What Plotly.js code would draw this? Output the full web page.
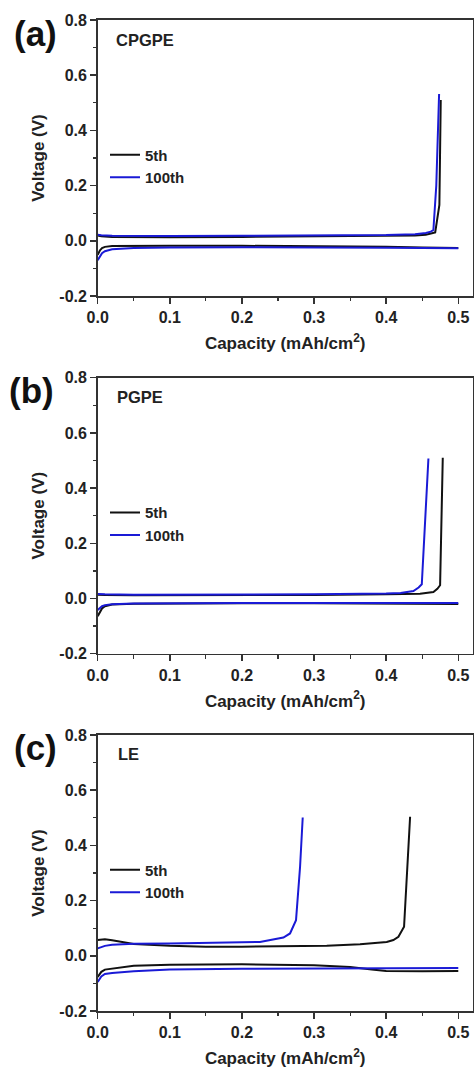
<!DOCTYPE html>
<html>
<head>
<meta charset="utf-8">
<script src="https://cdn.plot.ly/plotly-3.0.1.min.js"></script>
<style>html,body{margin:0;padding:0;background:#fff;}#chart{width:474px;height:1073px;}</style>
</head>
<body>
<div id="chart"></div>
<script>
// ---------- data (Capacity in mAh/cm2, Voltage in V) ----------
const seriesNames = ['5th', '100th'];
const panelLabels = ['(a)', '(b)', '(c)'];
const panelNames = ['CPGPE', 'PGPE', 'LE'];
const xTickVals = [0, 0.1, 0.2, 0.3, 0.4, 0.5];
const xTickText = ['0.0', '0.1', '0.2', '0.3', '0.4', '0.5'];
const yTickVals = [-0.2, 0, 0.2, 0.4, 0.6, 0.8];
const yTickText = ['-0.2', '0.0', '0.2', '0.4', '0.6', '0.8'];

// Panel (a) CPGPE
const a5ChgX   = [0, 0.005, 0.02, 0.05, 0.1, 0.2, 0.3, 0.4, 0.44, 0.455, 0.464, 0.468, 0.4738, 0.4757];
const a5ChgY   = [0.019, 0.016, 0.014, 0.013, 0.013, 0.014, 0.015, 0.017, 0.019, 0.022, 0.026, 0.030, 0.13, 0.51];
const a100ChgX = [0, 0.005, 0.02, 0.05, 0.1, 0.2, 0.3, 0.4, 0.44, 0.455, 0.462, 0.4655, 0.4695, 0.4734];
const a100ChgY = [0.022, 0.02, 0.018, 0.017, 0.017, 0.018, 0.019, 0.021, 0.024, 0.028, 0.033, 0.039, 0.2, 0.532];
const a5DisX   = [0, 0.003, 0.006, 0.01, 0.02, 0.05, 0.1, 0.2, 0.3, 0.4, 0.45, 0.5];
const a5DisY   = [-0.051, -0.035, -0.026, -0.022, -0.019, -0.018, -0.018, -0.018, -0.019, -0.022, -0.024, -0.026];
const a100DisX = [0, 0.003, 0.006, 0.01, 0.02, 0.05, 0.1, 0.2, 0.3, 0.4, 0.5];
const a100DisY = [-0.07, -0.055, -0.045, -0.038, -0.031, -0.026, -0.024, -0.023, -0.023, -0.025, -0.027];

// Panel (b) PGPE
const b5ChgX   = [0, 0.01, 0.05, 0.1, 0.2, 0.3, 0.4, 0.447, 0.4655, 0.471, 0.4748, 0.4785];
const b5ChgY   = [0.014, 0.013, 0.012, 0.012, 0.012, 0.013, 0.015, 0.0175, 0.0235, 0.035, 0.048, 0.51];
const b100ChgX = [0, 0.01, 0.05, 0.1, 0.2, 0.3, 0.4, 0.42, 0.4378, 0.445, 0.4494, 0.4586];
const b100ChgY = [0.016, 0.015, 0.014, 0.014, 0.014, 0.015, 0.018, 0.02, 0.027, 0.04, 0.0515, 0.5075];
const b5DisX   = [0, 0.003, 0.006, 0.01, 0.02, 0.05, 0.1, 0.2, 0.3, 0.4, 0.5];
const b5DisY   = [-0.064, -0.048, -0.036, -0.028, -0.022, -0.019, -0.018, -0.017, -0.017, -0.018, -0.02];
const b100DisX = [0, 0.003, 0.006, 0.01, 0.02, 0.05, 0.1, 0.2, 0.3, 0.4, 0.5];
const b100DisY = [-0.042, -0.034, -0.028, -0.024, -0.021, -0.018, -0.017, -0.016, -0.016, -0.0165, -0.0165];

// Panel (c) LE
const c5ChgX   = [0, 0.01, 0.02, 0.05, 0.1, 0.15, 0.2, 0.25, 0.3176, 0.3638, 0.4008, 0.41, 0.417, 0.4248, 0.4332];
const c5ChgY   = [0.057, 0.06, 0.056, 0.043, 0.036, 0.033, 0.033, 0.034, 0.036, 0.042, 0.05, 0.057, 0.069, 0.105, 0.504];
const c100ChgX = [0, 0.005, 0.01, 0.02, 0.05, 0.1, 0.15, 0.2, 0.225, 0.2575, 0.2667, 0.275, 0.2806, 0.2843];
const c100ChgY = [0.027, 0.033, 0.036, 0.04, 0.044, 0.045, 0.047, 0.049, 0.05, 0.066, 0.081, 0.129, 0.322, 0.501];
const c5DisX   = [0, 0.005, 0.01, 0.02, 0.05, 0.1, 0.15, 0.2, 0.3, 0.35, 0.38, 0.4, 0.45, 0.5];
const c5DisY   = [-0.077, -0.058, -0.05, -0.046, -0.036, -0.032, -0.031, -0.031, -0.034, -0.041, -0.05, -0.055, -0.056, -0.055];
const c100DisX = [0, 0.005, 0.01, 0.02, 0.05, 0.1, 0.2, 0.3, 0.35, 0.4, 0.5];
const c100DisY = [-0.095, -0.075, -0.066, -0.062, -0.056, -0.05, -0.047, -0.046, -0.045, -0.044, -0.044];

// ---------- styling ----------
const BLACK = '#111111';
const BLUE = '#1a1ad6';
const FONT = 'Liberation Sans, Arial, Helvetica, sans-serif';
const LW = 2;

const panels = [
  {chg5: [a5ChgX, a5ChgY], chg100: [a100ChgX, a100ChgY], dis5: [a5DisX, a5DisY], dis100: [a100DisX, a100DisY]},
  {chg5: [b5ChgX, b5ChgY], chg100: [b100ChgX, b100ChgY], dis5: [b5DisX, b5DisY], dis100: [b100DisX, b100DisY]},
  {chg5: [c5ChgX, c5ChgY], chg100: [c100ChgX, c100ChgY], dis5: [c5DisX, c5DisY], dis100: [c100DisX, c100DisY]}
];

const W = 474, H = 1073;
const plotLeft = 97.7, plotRight = 472.7;
const plotTops = [20, 377.7, 735];
const plotH = 276;

const traces = [];
const layout = {
  width: W, height: H,
  margin: {l: 0, r: 0, t: 0, b: 0},
  paper_bgcolor: '#ffffff', plot_bgcolor: '#ffffff',
  showlegend: true,
  font: {family: FONT, color: '#222'},
  annotations: []
};

panels.forEach((p, i) => {
  const n = i === 0 ? '' : String(i + 1);
  const xa = 'x' + n, ya = 'y' + n;
  const leg = i === 0 ? 'legend' : 'legend' + (i + 1);
  const mk = (xy, color, name, show) => ({
    x: xy[0], y: xy[1], type: 'scatter', mode: 'lines',
    line: {color: color, width: LW},
    name: name, showlegend: show, legend: leg, legendgroup: name + i,
    xaxis: xa, yaxis: ya, hoverinfo: 'skip'
  });
  traces.push(mk(p.chg5, BLACK, seriesNames[0], true));
  traces.push(mk(p.dis5, BLACK, seriesNames[0], false));
  traces.push(mk(p.chg100, BLUE, seriesNames[1], true));
  traces.push(mk(p.dis100, BLUE, seriesNames[1], false));

  const top = plotTops[i], bot = top + plotH;
  const yDom = [1 - bot / H, 1 - top / H];
  const xDom = [plotLeft / W, plotRight / W];

  layout['xaxis' + n] = {
    domain: xDom, anchor: ya, range: [0, 0.52],
    tickvals: xTickVals, ticktext: xTickText,
    ticks: 'outside', ticklen: 6, tickwidth: 1.5, tickcolor: '#333',
    minor: {tickvals: [0.05, 0.15, 0.25, 0.35, 0.45], ticks: 'outside', ticklen: 3.5, tickwidth: 1.2, tickcolor: '#333'},
    showline: true, linecolor: '#333', linewidth: 1.6, mirror: true,
    showgrid: false, zeroline: false,
    tickfont: {family: FONT, size: 16, weight: 'bold', color: '#222'},
    title: {text: 'Capacity (mAh/cm<sup>2</sup>)', font: {family: FONT, size: 17, weight: 'bold', color: '#222'}, standoff: 12},
    fixedrange: true
  };
  layout['yaxis' + n] = {
    domain: yDom, anchor: xa, range: [-0.2, 0.8],
    tickvals: yTickVals, ticktext: yTickText,
    ticks: 'outside', ticklen: 6, tickwidth: 1.5, tickcolor: '#333',
    minor: {tickvals: [-0.1, 0.1, 0.3, 0.5, 0.7], ticks: 'outside', ticklen: 3.5, tickwidth: 1.2, tickcolor: '#333'},
    showline: true, linecolor: '#333', linewidth: 1.6, mirror: true,
    showgrid: false, zeroline: false,
    tickfont: {family: FONT, size: 16, weight: 'bold', color: '#222'},
    title: {text: 'Voltage (V)', font: {family: FONT, size: 17, weight: 'bold', color: '#222'}, standoff: 10},
    fixedrange: true
  };

  layout[leg] = {
    x: 105 / W, xanchor: 'left',
    y: 1 - (top + 146) / H, yanchor: 'middle',
    bgcolor: 'rgba(0,0,0,0)', borderwidth: 0,
    font: {family: FONT, size: 15, weight: 'bold', color: '#222'},
    tracegroupgap: 0, itemwidth: 30
  };

  const labelPos = [[35, 33], [32, 390], [35, 747]][i];
  layout.annotations.push({
    xref: 'paper', yref: 'paper', x: labelPos[0] / W, y: 1 - labelPos[1] / H,
    xanchor: 'center', yanchor: 'middle', showarrow: false,
    text: panelLabels[i], font: {family: FONT, size: 35, weight: 'bold', color: '#111'}
  });
  const namePos = [[114, 40], [115, 397], [116, 754]][i];
  layout.annotations.push({
    xref: 'paper', yref: 'paper', x: namePos[0] / W, y: 1 - namePos[1] / H,
    xanchor: 'left', yanchor: 'middle', showarrow: false,
    text: panelNames[i], font: {family: FONT, size: 16.5, weight: 'bold', color: '#222'}
  });
});

Plotly.newPlot('chart', traces, layout, {displayModeBar: false, staticPlot: true});
</script>
</body>
</html>
